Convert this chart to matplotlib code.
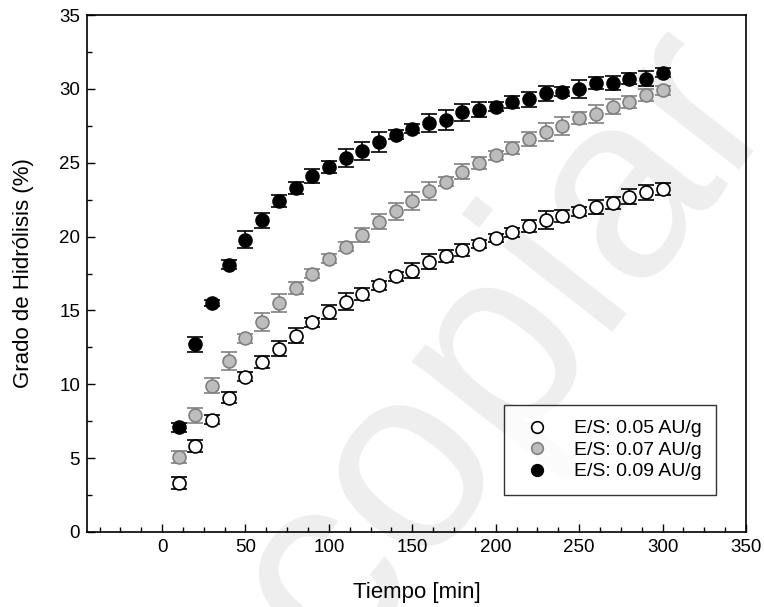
import matplotlib
matplotlib.use("Agg")
import matplotlib.pyplot as plt
from matplotlib.ticker import MultipleLocator

plt.rcParams['font.family'] = ['Liberation Sans', 'DejaVu Sans']

tiempo = [10, 20, 30, 40, 50, 60, 70, 80, 90, 100, 110, 120, 130, 140, 150,
          160, 170, 180, 190, 200, 210, 220, 230, 240, 250, 260, 270, 280, 290, 300]

gh_005 = [3.3, 5.8, 7.6, 9.1, 10.5, 11.5, 12.4, 13.3, 14.2, 14.9, 15.6, 16.1, 16.7, 17.3, 17.7,
          18.3, 18.7, 19.1, 19.5, 19.9, 20.3, 20.7, 21.1, 21.4, 21.7, 22.0, 22.3, 22.7, 23.0, 23.2]
err_005 = [0.4, 0.4, 0.3, 0.4, 0.3, 0.4, 0.5, 0.5, 0.3, 0.5, 0.6, 0.4, 0.3, 0.3, 0.5,
           0.5, 0.4, 0.4, 0.3, 0.3, 0.3, 0.4, 0.6, 0.4, 0.3, 0.5, 0.4, 0.5, 0.5, 0.4]

gh_007 = [5.1, 7.9, 9.9, 11.6, 13.1, 14.2, 15.5, 16.5, 17.5, 18.5, 19.3, 20.1, 21.0, 21.7, 22.4,
          23.1, 23.7, 24.4, 25.0, 25.5, 26.0, 26.6, 27.1, 27.5, 28.0, 28.3, 28.8, 29.1, 29.6, 29.9]
err_007 = [0.4, 0.5, 0.5, 0.6, 0.3, 0.6, 0.6, 0.4, 0.3, 0.3, 0.3, 0.5, 0.5, 0.6, 0.6,
           0.6, 0.3, 0.5, 0.4, 0.3, 0.4, 0.5, 0.6, 0.6, 0.4, 0.6, 0.5, 0.4, 0.4, 0.3]

gh_009 = [7.1, 12.7, 15.5, 18.1, 19.8, 21.1, 22.4, 23.3, 24.1, 24.7, 25.3, 25.8, 26.4, 26.9, 27.3,
          27.7, 27.9, 28.4, 28.6, 28.8, 29.1, 29.3, 29.7, 29.8, 30.0, 30.4, 30.4, 30.7, 30.7, 31.1]
err_009 = [0.3, 0.5, 0.2, 0.3, 0.6, 0.5, 0.4, 0.4, 0.5, 0.4, 0.6, 0.6, 0.7, 0.3, 0.3,
           0.6, 0.7, 0.6, 0.5, 0.3, 0.4, 0.5, 0.5, 0.3, 0.6, 0.4, 0.5, 0.4, 0.5, 0.3]

labels = ['E/S: 0.05 AU/g', 'E/S: 0.07 AU/g', 'E/S: 0.09 AU/g']

fig = plt.figure(figsize=(7.64, 6.07), dpi=100, facecolor='white')
ax = fig.add_axes([87/764, 75/607, 659/764, 517/607])
ax.set_facecolor('none')

# watermark
fig.text(0.66, 0.43, 'copiar', fontsize=190, color='#eeeeee', rotation=52,
         ha='center', va='center', zorder=-5)

styles = [
    (gh_005, err_005, 'white', 'black', 'black'),
    (gh_007, err_007, '#bdbdbd', '#808080', '#808080'),
    (gh_009, err_009, 'black', 'black', 'black'),
]
for (y, e, fc, ec, errc), lab in zip(styles, labels):
    ax.errorbar(tiempo, y, yerr=e, fmt='o', ms=9.3, mfc=fc, mec=ec, mew=1.2,
                ecolor=errc, elinewidth=1.2, capsize=5.8, capthick=1.2, label=lab)

ax.set_xlim(-45, 350)
ax.set_ylim(0, 35)
ax.xaxis.set_major_locator(MultipleLocator(50))
ax.xaxis.set_minor_locator(MultipleLocator(12.5))
ax.yaxis.set_major_locator(MultipleLocator(5))
ax.yaxis.set_minor_locator(MultipleLocator(2.5))
ax.tick_params(which='both', direction='in', top=False, right=False, labelsize=13.5)
ax.tick_params(which='major', length=6, width=1, pad=5)
ax.tick_params(which='minor', length=3.5, width=1)
for s in ax.spines.values():
    s.set_linewidth(1.2)

ax.set_xlabel('Tiempo [min]', fontsize=16, labelpad=19)
ax.set_ylabel('Grado de Hidrólisis (%)', fontsize=16, labelpad=18)

handles, labs = ax.get_legend_handles_labels()
handles = [h[0] for h in handles]
leg = ax.legend(handles, labs, loc='lower right', bbox_to_anchor=(0.9545, 0.0716),
                borderaxespad=0, fontsize=14, frameon=True, fancybox=False,
                handletextpad=0.95, borderpad=0.75, labelspacing=0.2, handlelength=1.9,
                markerscale=0.9)
leg.get_frame().set_edgecolor('black')
leg.get_frame().set_linewidth(1.0)

fig.savefig('out.png', dpi=100)
